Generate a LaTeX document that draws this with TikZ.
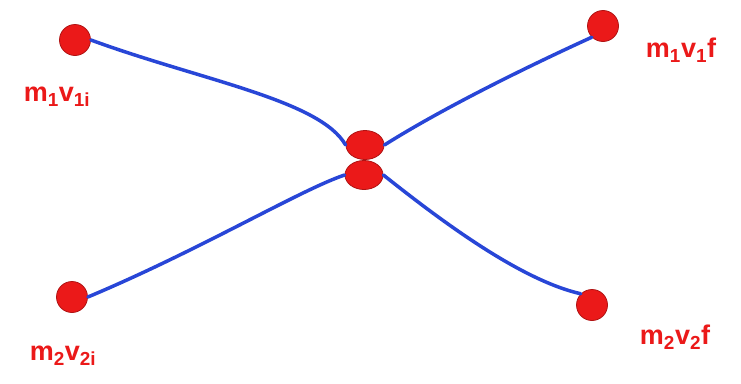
\documentclass[tikz,border=0pt]{standalone}
\usepackage{fontspec}
\setmainfont{Liberation Sans}
\usetikzlibrary{shapes.geometric}
\definecolor{mred}{RGB}{235,25,25}
\definecolor{mblue}{RGB}{40,70,215}
\begin{document}
\begin{tikzpicture}[x=1pt,y=-1pt,
  dot/.style={circle,fill=mred,draw=mred!75!black,line width=0.8pt,minimum size=31pt,inner sep=0pt},
  sdot/.style={ellipse,fill=mred,draw=mred!75!black,line width=0.8pt,minimum width=38pt,minimum height=29pt,inner sep=0pt},
  track/.style={mblue,line width=3.5pt,line cap=round},
  lab/.style={text=mred,font=\fontsize{27}{30}\selectfont\bfseries}]
\useasboundingbox (0,0) rectangle (741,383);
\fill[white] (0,0) rectangle (741,383);
\node[dot] (a) at (75,40) {};
\node[dot] (b) at (603,26) {};
\node[sdot] (c) at (365,145) {};
\node[sdot] (d) at (364,175) {};
\node[dot] (e) at (72,297) {};
\node[dot] (f) at (592,305) {};
\draw[track] (a.east) .. controls (200,80) and (320,100) .. (c.west);
\draw[track] (c.east) .. controls (440,110) and (520,70) .. (b.south west);
\draw[track] (e.east) .. controls (200,250) and (300,190) .. (d.west);
\draw[track] (d.east) .. controls (440,220) and (520,280) .. (f.north west);
\node[lab] (la) at (57,97) {m\textsubscript{1}v\textsubscript{1i}};
\node[lab] (lb) at (681,50) {m\textsubscript{1}v\textsubscript{1}f};
\node[lab] (le) at (63,356) {m\textsubscript{2}v\textsubscript{2i}};
\node[lab] (lf) at (675,337) {m\textsubscript{2}v\textsubscript{2}f};
\end{tikzpicture}
\end{document}
